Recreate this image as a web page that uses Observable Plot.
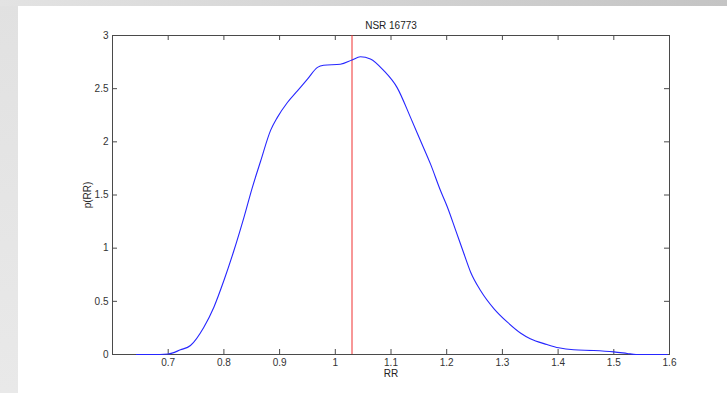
<!DOCTYPE html>
<html>
<head>
<meta charset="utf-8">
<script src="https://cdn.jsdelivr.net/npm/d3@7"></script>
<script src="https://cdn.jsdelivr.net/npm/@observablehq/plot@0.6"></script>
<style>
  html, body { margin: 0; padding: 0; }
  #wrap {
    position: relative; width: 727px; height: 393px; overflow: hidden;
    background:
      linear-gradient(to right, #e3e3e3, #c4c4c4) top left / 100% 6px no-repeat,
      linear-gradient(to bottom, #e1e1e1, #e9e9e9) top left / 18px 100% no-repeat,
      #ffffff;
  }
  #wrap svg { position: absolute; left: 0; top: 0; background: transparent; }
</style>
</head>
<body>
<div id="wrap"></div>
<script>
const title = "NSR 16773";
const xLabel = "RR";
const yLabel = "p(RR)";
const xTicks = [0.7, 0.8, 0.9, 1, 1.1, 1.2, 1.3, 1.4, 1.5, 1.6];
const yTicks = [0, 0.5, 1, 1.5, 2, 2.5, 3];
const meanRR = [1.03];

const rr = [0.643, 0.67, 0.70, 0.722, 0.740, 0.764, 0.782, 0.800, 0.818, 0.836, 0.851, 0.866, 0.884, 0.896, 0.914, 0.932, 0.950, 0.968, 0.979, 1.009, 1.030, 1.045, 1.063, 1.087, 1.111, 1.135, 1.153, 1.171, 1.189, 1.201, 1.216, 1.231, 1.243, 1.261, 1.285, 1.309, 1.333, 1.350, 1.380, 1.401, 1.428, 1.464, 1.500, 1.524, 1.540, 1.596];
const prr = [0.0, 0.0, 0.005, 0.044, 0.085, 0.257, 0.445, 0.696, 0.978, 1.29, 1.57, 1.82, 2.11, 2.23, 2.37, 2.48, 2.59, 2.70, 2.72, 2.73, 2.77, 2.80, 2.78, 2.67, 2.51, 2.23, 2.01, 1.79, 1.54, 1.39, 1.17, 0.947, 0.774, 0.60, 0.43, 0.304, 0.20, 0.148, 0.094, 0.063, 0.044, 0.038, 0.025, 0.01, 0.0, 0.0];

const data = rr.map((x, i) => ({x, y: prr[i]}));

const W = 727, H = 393, ML = 112, MR = 58, MT = 35, MB = 39;
const innerW = W - ML - MR, innerH = H - MT - MB;
const axisColor = "#4a4a4a";
const font = "'Liberation Sans', Arial, Helvetica, sans-serif";

const chart = Plot.plot({
  width: W, height: H,
  marginLeft: ML, marginRight: MR, marginTop: MT, marginBottom: MB,
  style: { fontFamily: font, fontSize: "10px", color: "#333", background: "transparent" },
  x: { domain: [0.6, 1.6] },
  y: { domain: [0, 3] },
  marks: [
    Plot.frame({ stroke: axisColor, strokeWidth: 1 }),
    // inward ticks, bottom and top
    Plot.tickX(xTicks, { x: d => d, stroke: axisColor, insetTop: innerH - 5 }),
    Plot.tickX(xTicks, { x: d => d, stroke: axisColor, insetBottom: innerH - 5 }),
    // inward ticks, left and right
    Plot.tickY(yTicks, { y: d => d, stroke: axisColor, insetRight: innerW - 5 }),
    Plot.tickY(yTicks, { y: d => d, stroke: axisColor, insetLeft: innerW - 5 }),
    Plot.ruleX(meanRR, { x: d => d, stroke: "#f03030", strokeWidth: 1 }),
    Plot.line(data, { x: "x", y: "y", stroke: "#2626ff", strokeWidth: 1.1, curve: "monotone-x" }),
    Plot.axisX(xTicks, { tickSize: 0, tickPadding: 4, tickFormat: d => String(d), label: null, fill: "#333" }),
    Plot.axisY(yTicks, { tickSize: 0, tickPadding: 4, tickFormat: d => String(d), label: null, fill: "#333" }),
    Plot.text([title], { text: d => d, frameAnchor: "top", lineAnchor: "middle", dy: -10, fill: "#222", fontSize: 10 }),
    Plot.text([xLabel], { text: d => d, frameAnchor: "bottom", lineAnchor: "middle", dy: 19, fill: "#222", fontSize: 10 }),
    Plot.text([yLabel], { text: d => d, frameAnchor: "left", textAnchor: "middle", lineAnchor: "middle", dx: -25, rotate: -90, fill: "#222", fontSize: 10 })
  ]
});
document.getElementById("wrap").appendChild(chart);
</script>
</body>
</html>
